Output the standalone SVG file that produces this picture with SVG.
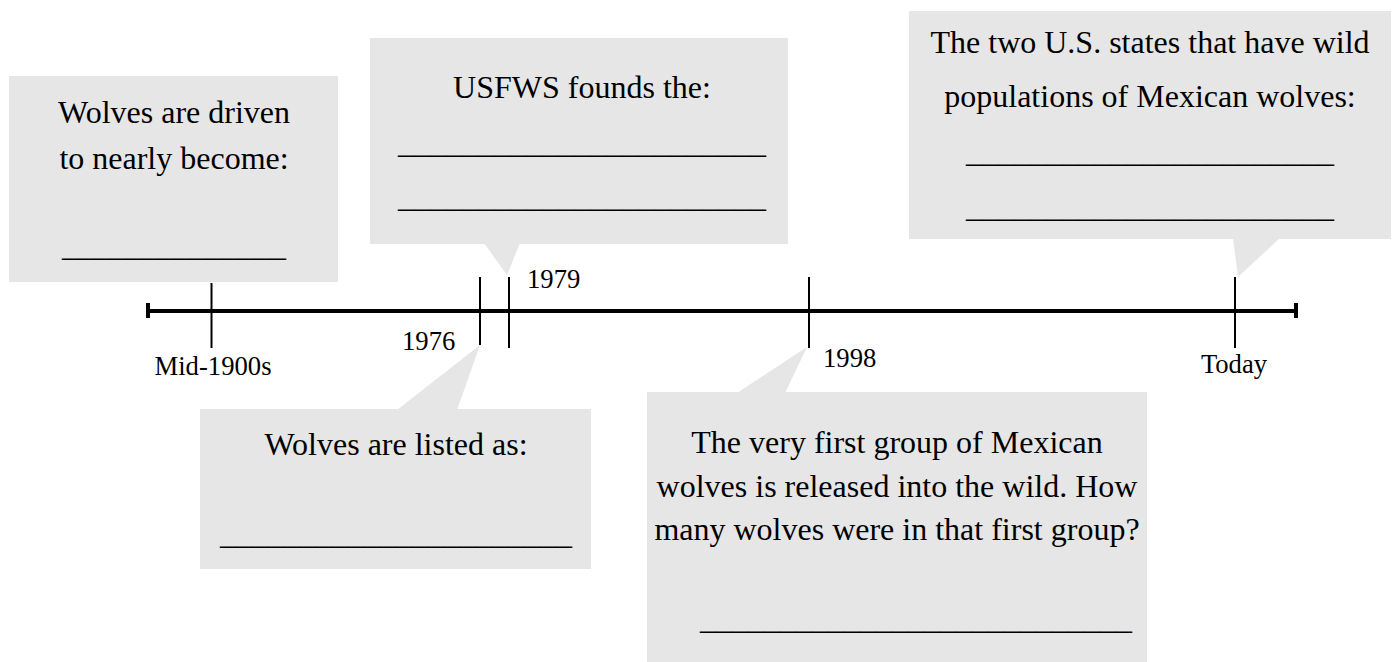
<svg xmlns="http://www.w3.org/2000/svg" width="1394" height="662" viewBox="0 0 1394 662">
<style>
.box{fill:#e6e6e6;stroke:none}
.t{font-family:"Liberation Serif","Times New Roman",serif;font-size:32px;fill:#000}
.m{text-anchor:middle}
.lbl{font-family:"Liberation Serif","Times New Roman",serif;font-size:26.67px;fill:#000}
.axis{stroke:#000;stroke-width:4;fill:none}
.tick{stroke:#000;stroke-width:2;fill:none}
</style>
<rect width="1394" height="662" fill="#fff"/>
<g id="node-mid1900s">
<rect class="box" x="9" y="76" width="329" height="206"/>
<text class="t m" x="174" y="123">Wolves are driven</text>
<text class="t m" x="174" y="169">to nearly become:</text>
<text class="t m" x="174" y="256">______________</text>
</g>
<g id="node-1979">
<rect class="box" x="370" y="38" width="418" height="206"/>
<polygon class="box" points="484,243 520,243 507,275"/>
<text class="t m" x="582" y="98">USFWS founds the:</text>
<text class="t m" x="582" y="153">_______________________</text>
<text class="t m" x="582" y="207">_______________________</text>
</g>
<g id="node-1976">
<rect class="box" x="200" y="409" width="391" height="160"/>
<polygon class="box" points="397,410 457,410 480,345"/>
<text class="t m" x="396" y="455">Wolves are listed as:</text>
<text class="t m" x="396" y="544">______________________</text>
</g>
<g id="node-1998">
<rect class="box" x="647" y="392" width="500" height="270"/>
<polygon class="box" points="737,393 785,393 807,347"/>
<text class="t m" x="897" y="453">The very first group of Mexican</text>
<text class="t m" x="897" y="497">wolves is released into the wild. How</text>
<text class="t m" x="897" y="540">many wolves were in that first group?</text>
<text class="t" x="700" y="629">___________________________</text>
</g>
<g id="node-today">
<rect class="box" x="909" y="11" width="482" height="228"/>
<polygon class="box" points="1233,238 1280,238 1238,277"/>
<text class="t m" x="1150" y="53">The two U.S. states that have wild</text>
<text class="t m" x="1150" y="107">populations of Mexican wolves:</text>
<text class="t m" x="1150" y="162">_______________________</text>
<text class="t m" x="1150" y="217">_______________________</text>
</g>
<g id="connectors">
<line class="axis" x1="148" y1="311" x2="1296" y2="311"/>
<line class="axis" x1="148" y1="303" x2="148" y2="318"/>
<line class="axis" x1="1296" y1="303" x2="1296" y2="318"/>
<line class="tick" x1="211.5" y1="283" x2="211.5" y2="348"/>
<line class="tick" x1="480" y1="277" x2="480" y2="345"/>
<line class="tick" x1="509" y1="277" x2="509" y2="348"/>
<line class="tick" x1="809" y1="277" x2="809" y2="348"/>
<line class="tick" x1="1235" y1="277" x2="1235" y2="348"/>
</g>
<g id="labels">
<text class="lbl m" x="213" y="375">Mid-1900s</text>
<text class="lbl" x="402" y="350">1976</text>
<text class="lbl" x="527" y="288">1979</text>
<text class="lbl" x="823" y="367">1998</text>
<text class="lbl m" x="1234" y="373">Today</text>
</g>
</svg>
